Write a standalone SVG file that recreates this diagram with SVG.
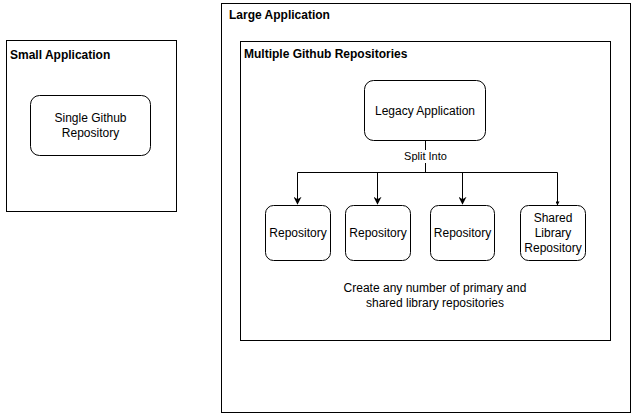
<svg xmlns="http://www.w3.org/2000/svg" width="631" height="413" viewBox="0 0 631 413">
<style>
text{font-family:"Liberation Sans",Arial,sans-serif;font-size:12px;fill:#000}
.t{font-weight:bold}
.c{text-anchor:middle}
.box{fill:#fff;stroke:#000;stroke-width:1}
.n{fill:#fff;stroke:#000;stroke-width:1}
.l{fill:none;stroke:#000;stroke-width:1}
</style>
<defs>
<marker id="a" viewBox="0 0 10 10" refX="9" refY="5" markerWidth="8" markerHeight="8" markerUnits="userSpaceOnUse" orient="auto">
<path d="M0,0 L10,5 L0,10 L3,5 Z" fill="#000"/>
</marker>
<marker id="s" viewBox="0 0 10 10" refX="9" refY="5" markerWidth="4" markerHeight="4" markerUnits="userSpaceOnUse" orient="auto">
<path d="M0,0 L10,5 L0,10 Z" fill="#000"/>
</marker>
</defs>
<rect width="631" height="413" fill="#fff"/>
<g id="small-app">
<rect class="box" x="6.5" y="40.5" width="170" height="171"/>
<text class="t" x="10" y="59">Small Application</text>
</g>
<g id="single-repo">
<rect class="n" x="30.5" y="95.5" width="120" height="60" rx="9"/>
<text class="c" x="90.5" y="122">Single Github</text>
<text class="c" x="90.5" y="137">Repository</text>
</g>
<g id="large-app">
<rect class="box" x="221.5" y="3.5" width="409" height="409"/>
<text class="t" x="229" y="19">Large Application</text>
</g>
<g id="multi-repos">
<rect class="box" x="240.5" y="41.5" width="370" height="299"/>
<text class="t" x="244" y="58">Multiple Github Repositories</text>
<text class="c" x="435" y="292">Create any number of primary and</text>
<text class="c" x="435" y="307">shared library repositories</text>
</g>
<g id="legacy">
<rect class="n" x="364.5" y="80.5" width="121" height="60" rx="9"/>
<text class="c" x="425" y="114.5">Legacy Application</text>
</g>
<g id="repo1">
<rect class="n" x="265.5" y="205.5" width="65" height="55" rx="8"/>
<text class="c" x="298" y="237">Repository</text>
</g>
<g id="repo2">
<rect class="n" x="345.5" y="205.5" width="65" height="55" rx="8"/>
<text class="c" x="378" y="237">Repository</text>
</g>
<g id="repo3">
<rect class="n" x="430.5" y="205.5" width="64" height="55" rx="8"/>
<text class="c" x="462.5" y="237">Repository</text>
</g>
<g id="shared-lib">
<rect class="n" x="520.5" y="205.5" width="65" height="55" rx="8"/>
<text class="c" x="553" y="222">Shared</text>
<text class="c" x="553" y="237">Library</text>
<text class="c" x="553" y="252">Repository</text>
</g>
<g id="connectors">
<path class="l" d="M425.5,140.5 V172.5"/>
<path class="l" d="M297.5,172.5 H557.5"/>
<path class="l" d="M297.5,172.5 V204" marker-end="url(#a)"/>
<path class="l" d="M377.5,172.5 V204" marker-end="url(#a)"/>
<path class="l" d="M462.5,172.5 V204" marker-end="url(#a)"/>
<path class="l" d="M557.5,172.5 V205" marker-end="url(#s)"/>
<rect x="401" y="150" width="49" height="13" fill="#fff"/>
<text class="c" x="425.5" y="160" style="font-size:11px">Split Into</text>
</g>
</svg>
